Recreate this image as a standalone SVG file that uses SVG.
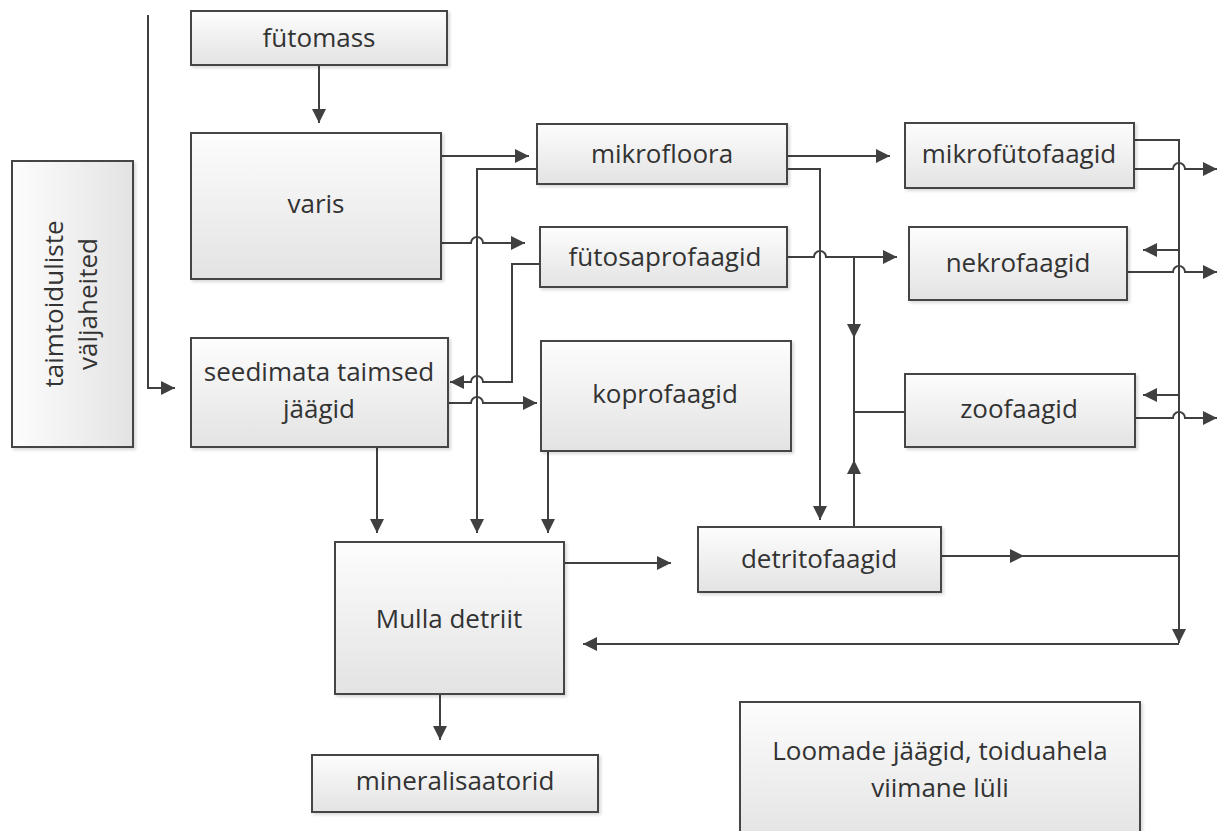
<svg xmlns="http://www.w3.org/2000/svg" width="1224" height="831" viewBox="0 0 1224 831">
<style>
.box{stroke:#454545;stroke-width:2;fill:url(#g);filter:url(#sh)}
.boxr{stroke:#454545;stroke-width:2;fill:url(#gh);filter:url(#sh)}
.t{font-family:"Open Sans","Liberation Sans",sans-serif;font-size:26px;fill:#333;text-anchor:middle}
.c{fill:none;stroke:#404040;stroke-width:2}
.a{marker-end:url(#ah)}
</style>
<defs>
<linearGradient id="g" x1="0" y1="0" x2="0" y2="1"><stop offset="0" stop-color="#fdfdfd"/><stop offset="1" stop-color="#e3e3e3"/></linearGradient>
<linearGradient id="gh" x1="0" y1="0" x2="1" y2="0"><stop offset="0" stop-color="#fdfdfd"/><stop offset="1" stop-color="#e3e3e3"/></linearGradient>
<filter id="sh" x="-10%" y="-10%" width="120%" height="120%"><feDropShadow dx="2" dy="2" stdDeviation="1.5" flood-color="#000" flood-opacity="0.15"/></filter>
<marker id="ah" markerUnits="userSpaceOnUse" markerWidth="14" markerHeight="14" refX="14" refY="7" orient="auto"><path d="M0,0 L14,7 L0,14 z" fill="#404040"/></marker>
</defs>
<rect width="1224" height="831" fill="#fff"/>

<g id="connectors">
<path class="c a" d="M319,65 V123"/>
<path class="c a" d="M441,156 H529"/>
<path class="c a" d="M441,243 H471 A6,6 0 0 1 483,243 H525"/>
<path class="c a" d="M537,169 H477 V533"/>
<path class="c a" d="M540,264 H512 V382 H483 A6,6 0 0 0 471,382 H450"/>
<path class="c a" d="M448,403 H471 A6,6 0 0 1 483,403 H537"/>
<path class="c a" d="M377,447 V533"/>
<path class="c a" d="M548,451 V533"/>
<path class="c a" d="M148,15 V388 H175"/>
<path class="c a" d="M787,156 H890"/>
<path class="c a" d="M787,169 H820 V520"/>
<path class="c a" d="M787,257 H814 A6,6 0 0 1 826,257 H897"/>
<path class="c a" d="M854,257 V338"/>
<path class="c" d="M854,336 V462"/>
<path class="c a" d="M854,527 V460"/>
<path class="c" d="M854,412 H905"/>
<path class="c a" d="M941,556 H1024"/>
<path class="c" d="M1022,556 H1179"/>
<path class="c a" d="M1134,140 H1179 V643"/>
<path class="c a" d="M1179,644 H583"/>
<path class="c a" d="M1179,250 H1143"/>
<path class="c a" d="M1179,395 H1143"/>
<path class="c a" d="M1134,169 H1173 A6,6 0 0 1 1185,169 H1217"/>
<path class="c a" d="M1127,272 H1173 A6,6 0 0 1 1185,272 H1217"/>
<path class="c a" d="M1135,418 H1173 A6,6 0 0 1 1185,418 H1217"/>
<path class="c a" d="M565,563 H671"/>
<path class="c a" d="M440,694 V740"/>
</g>

<g id="futomass"><rect class="box" x="191" y="11" width="256" height="54"/><text class="t" x="319" y="47">fütomass</text></g>
<g id="varis"><rect class="box" x="191" y="133" width="250" height="146"/><text class="t" x="316" y="213">varis</text></g>
<g id="taimtoiduliste"><rect class="boxr" x="12" y="161" width="121" height="286"/><text class="t" transform="translate(63,304) rotate(-90)">taimtoiduliste</text><text class="t" transform="translate(97,304) rotate(-90)">väljaheited</text></g>
<g id="seedimata"><rect class="box" x="191" y="338" width="257" height="109"/><text class="t" x="319" y="381">seedimata taimsed</text><text class="t" x="319" y="418">jäägid</text></g>
<g id="mikrofloora"><rect class="box" x="537" y="124" width="250" height="60"/><text class="t" x="662" y="163">mikrofloora</text></g>
<g id="futosaprofaagid"><rect class="box" x="540" y="227" width="247" height="60"/><text class="t" x="665" y="266">fütosaprofaagid</text></g>
<g id="koprofaagid"><rect class="box" x="541" y="341" width="250" height="110"/><text class="t" x="665" y="403">koprofaagid</text></g>
<g id="mikrofutofaagid"><rect class="box" x="905" y="123" width="229" height="65"/><text class="t" x="1019" y="163">mikrofütofaagid</text></g>
<g id="nekrofaagid"><rect class="box" x="909" y="227" width="218" height="73"/><text class="t" x="1018" y="272">nekrofaagid</text></g>
<g id="zoofaagid"><rect class="box" x="905" y="374" width="230" height="73"/><text class="t" x="1019" y="418">zoofaagid</text></g>
<g id="detritofaagid"><rect class="box" x="698" y="527" width="243" height="65"/><text class="t" x="819" y="568">detritofaagid</text></g>
<g id="mulla"><rect class="box" x="335" y="542" width="229" height="152"/><text class="t" x="449" y="628">Mulla detriit</text></g>
<g id="mineralisaatorid"><rect class="box" x="312" y="755" width="286" height="57"/><text class="t" x="455" y="790">mineralisaatorid</text></g>
<g id="loomade"><rect class="box" x="740" y="702" width="400" height="140"/><text class="t" x="940" y="760">Loomade jäägid, toiduahela</text><text class="t" x="940" y="797">viimane lüli</text></g>
</svg>
